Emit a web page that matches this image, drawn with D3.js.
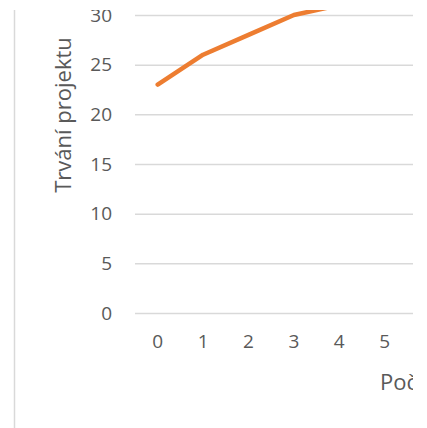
<!DOCTYPE html>
<html>
<head>
<meta charset="utf-8">
<script src="https://cdn.jsdelivr.net/npm/d3@7"></script>
<style>
  body { margin: 0; background: #fff; }
  text { font-family: "Open Sans", "Noto Sans", sans-serif; fill: #595959; }
</style>
</head>
<body>
<div id="chart"></div>
<script>
// Chart data (the chart is a crop; later categories are cut off at the right)
var categories = ["0", "1", "2", "3", "4", "5", "6"];
var durations = [23, 26, 28, 30, 31];
var yTicks = [0, 5, 10, 15, 20, 25, 30];
var yTitle = "Trvání projektu";
var xTitle = "Počet";

// SVG area
var svgWidth = 427;
var svgHeight = 428;

// The visible window of the (larger) chart
var view = { left: 0, top: 10, right: 413, bottom: 428 };

// Plot area
var plotLeft = 135;
var bandSize = 45.4;
var plotBottom = 313;
var unit = 9.933;

var svg = d3.select("#chart")
  .append("svg")
  .attr("width", svgWidth)
  .attr("height", svgHeight);

svg.append("clipPath")
  .attr("id", "crop")
  .append("rect")
  .attr("x", view.left)
  .attr("y", view.top)
  .attr("width", view.right - view.left)
  .attr("height", view.bottom - view.top);

var chartGroup = svg.append("g")
  .attr("clip-path", "url(#crop)");

// chart border (only the left edge is in view)
chartGroup.append("line")
  .attr("x1", 14.5).attr("x2", 14.5)
  .attr("y1", 0).attr("y2", svgHeight)
  .attr("stroke", "#d9d9d9")
  .attr("stroke-width", 1.5);

// scales
var xScale = d3.scaleBand()
  .domain(categories)
  .range([plotLeft, plotLeft + bandSize * categories.length]);

var yScale = d3.scaleLinear()
  .domain([0, 40])
  .range([plotBottom, plotBottom - 40 * unit]);

// gridlines + y labels
var leftAxis = d3.axisLeft(yScale)
  .tickValues(yTicks)
  .tickSize(-(bandSize * categories.length))
  .tickPadding(23);

var yAxis = chartGroup.append("g")
  .attr("transform", `translate(${plotLeft}, 0)`)
  .call(leftAxis);

yAxis.select(".domain").remove();
yAxis.selectAll(".tick line")
  .attr("stroke", "#d9d9d9")
  .attr("stroke-width", 1.5);
yAxis.selectAll(".tick text")
  .style("font-size", "19px")
  .attr("fill", "#595959");

// x labels
var bottomAxis = d3.axisBottom(xScale)
  .tickSize(0)
  .tickPadding(22);

var xAxis = chartGroup.append("g")
  .attr("transform", `translate(0, ${plotBottom})`)
  .call(bottomAxis);

xAxis.select(".domain").remove();
// drop labels that fall outside the visible crop
xAxis.selectAll(".tick")
  .filter(d => xScale(d) + xScale.bandwidth() / 2 > view.right)
  .select("text").remove();
xAxis.selectAll(".tick text")
  .style("font-size", "19px")
  .attr("fill", "#595959");

// line
var lineFunction = d3.line()
  .x((d, i) => xScale(categories[i]) + xScale.bandwidth() / 2)
  .y(d => yScale(d));

chartGroup.append("path")
  .attr("d", lineFunction(durations))
  .attr("fill", "none")
  .attr("stroke", "#ed7d31")
  .attr("stroke-width", 4.5)
  .attr("stroke-linecap", "round")
  .attr("stroke-linejoin", "round");

// axis titles
chartGroup.append("text")
  .attr("transform", `translate(71, 115) rotate(-90)`)
  .attr("text-anchor", "middle")
  .style("font-size", "22px")
  .text(yTitle);

chartGroup.append("text")
  .attr("x", 380)
  .attr("y", 390)
  .style("font-size", "22px")
  .text(xTitle);
</script>
</body>
</html>
